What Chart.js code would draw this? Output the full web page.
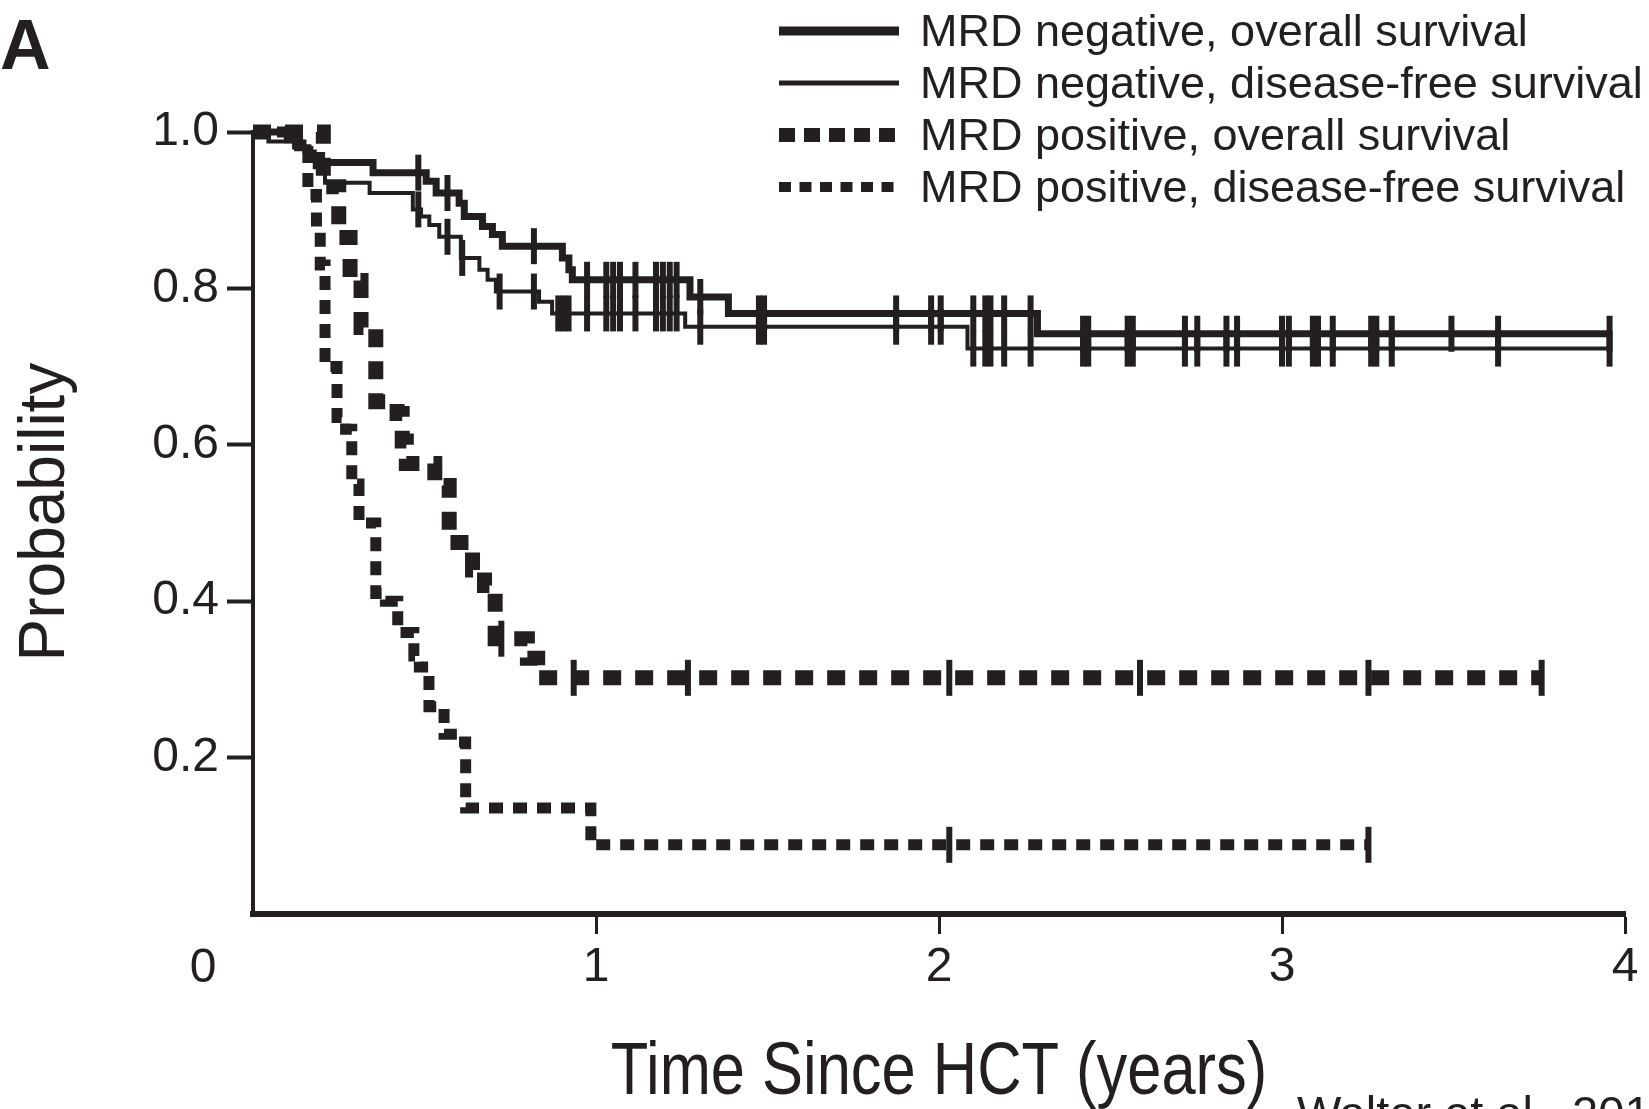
<!DOCTYPE html>
<html>
<head>
<meta charset="utf-8">
<title>MRD survival</title>
<script src="https://cdn.jsdelivr.net/npm/chart.js@4.4.1/dist/chart.umd.min.js"></script>
<style>
  html, body { margin: 0; padding: 0; background: #fff; }
  #wrap { width: 1649px; height: 1109px; position: relative; }
</style>
</head>
<body>
<div id="wrap"><canvas id="km" width="1649" height="1109"></canvas></div>
<script>
// Kaplan-Meier curves (time in years, survival probability)
const negOsTime = [0, 0.1, 0.13, 0.16, 0.2, 0.35, 0.505, 0.534, 0.601, 0.616, 0.669, 0.698, 0.727, 0.902, 0.921, 0.931, 1.274, 1.386, 2.287];
const negOsSurv = [1.0, 0.99, 0.98, 0.97, 0.961, 0.948, 0.937, 0.922, 0.909, 0.892, 0.879, 0.869, 0.854, 0.839, 0.824, 0.811, 0.789, 0.768, 0.742];
const negOsCensor = [0.482, 0.567, 0.819, 0.974, 1.03, 1.05, 1.07, 1.115, 1.175, 1.195, 1.215, 1.235, 1.304, 1.475, 1.49, 1.875, 1.977, 2.005, 2.1, 2.135, 2.15, 2.19, 2.267, 2.42, 2.435, 2.55, 2.565, 2.717, 2.753, 2.838, 2.869, 3.0, 3.02, 3.09, 3.105, 3.148, 3.26, 3.275, 3.32, 3.494, 3.63, 3.955];

const negDfsTime = [0, 0.045, 0.15, 0.18, 0.21, 0.34, 0.466, 0.49, 0.514, 0.543, 0.606, 0.66, 0.684, 0.708, 0.834, 0.872, 1.26, 2.083];
const negDfsSurv = [1.0, 0.988, 0.975, 0.955, 0.935, 0.922, 0.901, 0.892, 0.881, 0.866, 0.839, 0.824, 0.811, 0.796, 0.783, 0.768, 0.751, 0.723];
const negDfsCensor = [0.482, 0.567, 0.61, 0.719, 0.819, 0.89, 0.905, 0.92, 0.974, 1.03, 1.05, 1.07, 1.115, 1.175, 1.195, 1.215, 1.235, 1.304, 1.475, 1.49, 1.875, 1.977, 2.005, 2.1, 2.135, 2.15, 2.19, 2.267, 2.42, 2.435, 2.55, 2.565, 2.717, 2.753, 2.838, 2.869, 3.0, 3.02, 3.09, 3.105, 3.148, 3.26, 3.275, 3.32, 3.63, 3.955];

const posOsTime = [0, 0.205, 0.25, 0.283, 0.315, 0.358, 0.42, 0.435, 0.447, 0.53, 0.572, 0.64, 0.675, 0.706, 0.80, 0.83];
const posOsSurv = [1.0, 0.93, 0.865, 0.81, 0.75, 0.655, 0.64, 0.605, 0.576, 0.548, 0.475, 0.44, 0.42, 0.352, 0.327, 0.302];
const posOsCensor = [0.724, 0.935, 1.268, 2.03, 2.586, 3.252, 3.757];

const posDfsTime = [0, 0.13, 0.16, 0.185, 0.196, 0.21, 0.245, 0.27, 0.288, 0.309, 0.358, 0.386, 0.422, 0.469, 0.485, 0.513, 0.557, 0.595, 0.62, 0.985];
const posDfsSurv = [1.0, 0.975, 0.92, 0.875, 0.83, 0.70, 0.635, 0.62, 0.55, 0.50, 0.41, 0.40, 0.36, 0.33, 0.316, 0.265, 0.23, 0.22, 0.1356, 0.0885];
const posDfsCensor = [2.03, 3.252];

const seriesLabels = [
  'MRD negative, overall survival',
  'MRD negative, disease-free survival',
  'MRD positive, overall survival',
  'MRD positive, disease-free survival'
];

const ink = '#231f20';
const sansFont = '"Liberation Sans", Arial, sans-serif';

// merge event times and censor times into one step series
function kmPoints(times, surv, censor) {
  const pts = times.map((t, i) => ({ x: t, y: surv[i], c: false }));
  censor.forEach(t => {
    let s = surv[0];
    times.forEach((tt, i) => { if (tt <= t) s = surv[i]; });
    pts.push({ x: t, y: s, c: true });
  });
  return pts.sort((a, b) => a.x - b.x || (a.c - b.c));
}

function kmDataset(label, pts, width, dash) {
  return {
    label: label,
    data: pts,
    borderColor: ink,
    backgroundColor: ink,
    borderWidth: width,
    borderDash: dash,
    borderCapStyle: 'butt',
    borderJoinStyle: 'miter',
    stepped: 'before',
    fill: false,
    clip: false,
    pointStyle: 'line',
    rotation: 90,
    pointRadius: ctx => (ctx.raw && ctx.raw.c ? 18 : 0),
    pointBorderWidth: 6,
    pointBorderColor: ink,
    pointBackgroundColor: ink
  };
}

// legend samples (line width and dash) per row
const legendWidths = [9, 5, 14, 10];
const legendDashes = [[], [], [16, 9], [12, 8.5]];
const legendRowsY = [31, 83, 135, 187];

const decorations = {
  id: 'decorations',
  afterDraw(chart) {
    const ctx = chart.ctx;
    const xs = chart.scales.x;
    const area = chart.chartArea;
    ctx.save();
    ctx.fillStyle = ink;
    ctx.strokeStyle = ink;

    // panel letter
    ctx.font = 'bold 70px ' + sansFont;
    ctx.textBaseline = 'alphabetic';
    ctx.textAlign = 'left';
    ctx.fillText('A', 0, 69);

    // legend
    ctx.font = '45px ' + sansFont;
    ctx.textBaseline = 'middle';
    seriesLabels.forEach((txt, i) => {
      const y = legendRowsY[i];
      ctx.save();
      ctx.lineWidth = legendWidths[i];
      ctx.setLineDash(legendDashes[i]);
      ctx.lineCap = 'butt';
      ctx.beginPath();
      ctx.moveTo(779, y);
      ctx.lineTo(899, y);
      ctx.stroke();
      ctx.restore();
      ctx.fillText(txt, 920, y + 3);
    });

    // origin label, set off to the left of the axis
    ctx.font = '48px ' + sansFont;
    ctx.textAlign = 'center';
    ctx.textBaseline = 'middle';
    ctx.fillText('0', xs.getPixelForValue(0) - 50, 969);

    // axis titles (x title is set in a condensed face, so squeeze it)
    ctx.save();
    ctx.translate((area.left + area.right) / 2, 1094);
    ctx.scale(0.83, 1);
    ctx.font = '74px ' + sansFont;
    ctx.textAlign = 'center';
    ctx.textBaseline = 'alphabetic';
    ctx.fillText('Time Since HCT (years)', 0, 0);
    ctx.restore();

    ctx.save();
    ctx.translate(46, 512);
    ctx.rotate(-Math.PI / 2);
    ctx.font = '64px ' + sansFont;
    ctx.textAlign = 'center';
    ctx.textBaseline = 'middle';
    ctx.fillText('Probability', 0, 0);
    ctx.restore();

    // source note, clipped by the bottom edge
    ctx.font = '47px ' + sansFont;
    ctx.textAlign = 'left';
    ctx.textBaseline = 'alphabetic';
    ctx.fillText('Walter et al., 2011', 1297, 1129);
    ctx.restore();
  }
};

new Chart(document.getElementById('km'), {
  type: 'line',
  data: {
    datasets: [
      kmDataset(seriesLabels[0], kmPoints(negOsTime, negOsSurv, negOsCensor), 7, []),
      kmDataset(seriesLabels[1], kmPoints(negDfsTime, negDfsSurv, negDfsCensor), 4, []),
      kmDataset(seriesLabels[2], kmPoints(posOsTime, posOsSurv, posOsCensor), 15, [18, 14]),
      kmDataset(seriesLabels[3], kmPoints(posDfsTime, posDfsSurv, posDfsCensor), 11, [14, 10])
    ]
  },
  options: {
    responsive: false,
    devicePixelRatio: 1,
    animation: false,
    events: [],
    layout: { padding: { left: 0, right: 19, top: 132, bottom: 0 } },
    plugins: {
      legend: { display: false },
      tooltip: { enabled: false }
    },
    scales: {
      x: {
        type: 'linear',
        min: 0,
        max: 4,
        ticks: {
          stepSize: 1,
          maxRotation: 0,
          padding: 5,
          color: ink,
          font: { family: sansFont, size: 48 },
          callback: v => (v === 0 ? null : String(v))
        },
        grid: { drawOnChartArea: false, drawTicks: true, tickLength: 20, tickWidth: 3, tickColor: ink, color: ink },
        border: { display: true, color: ink, width: 6 },
        title: { display: false },
        afterFit: s => { s.height = 195; }
      },
      y: {
        min: 0,
        max: 1,
        ticks: {
          stepSize: 0.2,
          padding: 8,
          color: ink,
          font: { family: sansFont, size: 48 },
          callback: v => (v === 0 ? null : v.toFixed(1))
        },
        grid: { drawOnChartArea: false, drawTicks: true, tickLength: 26, tickWidth: 4, tickColor: ink, color: ink },
        border: { display: true, color: ink, width: 4 },
        title: { display: false },
        afterFit: s => { s.width = 253; }
      }
    }
  },
  plugins: [decorations]
});
</script>
</body>
</html>
